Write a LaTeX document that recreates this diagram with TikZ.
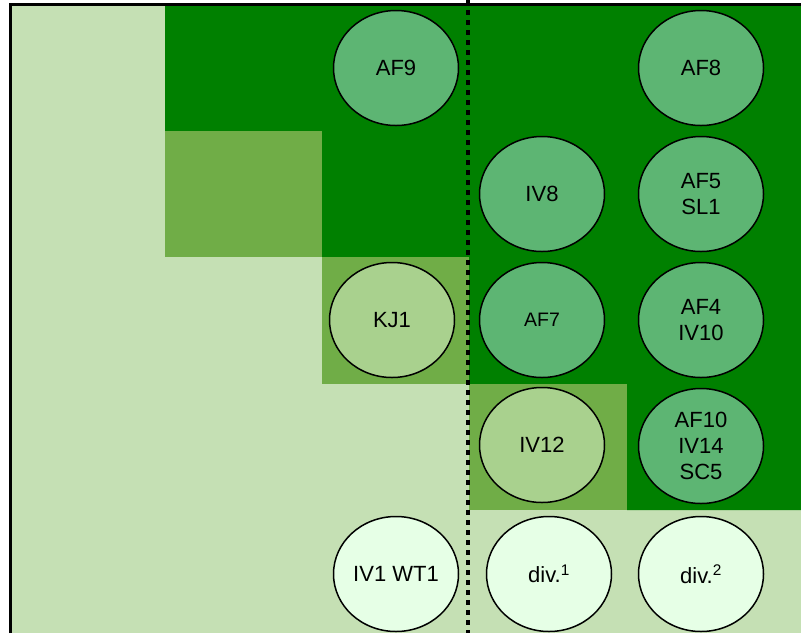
\documentclass[tikz,border=0pt]{standalone}
\usepackage{fontspec}
\setmainfont{Liberation Sans}
\usetikzlibrary{shapes.geometric}

\definecolor{dkgreen}{HTML}{008000}
\definecolor{mdgreen}{HTML}{70AD47}
\definecolor{ltgreen}{HTML}{C5E0B4}
\definecolor{dkoval}{HTML}{5DB573}
\definecolor{mdoval}{HTML}{A9D18E}
\definecolor{ltoval}{HTML}{E6FFE6}

\tikzset{
	oval/.style={ellipse, draw=black, line width=1.5pt, minimum width=125pt, minimum height=115pt,
		inner sep=0pt, align=center, font=\fontsize{22}{26}\selectfont},
	dkoval/.style={oval, fill=dkoval},
	mdoval/.style={oval, fill=mdoval},
	ltoval/.style={oval, fill=ltoval}
}

\begin{document}
\begin{tikzpicture}[x=1pt,y=-1pt]
		\useasboundingbox (0,0) rectangle (801,633);
		\fill[ltgreen] (12,6) rectangle (801,633);									% Fundo claro
		\fill[dkgreen] (165,6) -- (801,6) -- (801,510) -- (627,510) -- (627,384)
			-- (469,384) -- (469,257) -- (322,257) -- (322,131) -- (165,131) -- cycle;	% Escada escura
		\fill[mdgreen] (165,131) rectangle (322,257);								% Degrau 1
		\fill[mdgreen] (322,257) rectangle (469,384);								% Degrau 2
		\fill[mdgreen] (469,384) rectangle (627,510);								% Degrau 3
		\draw[line width=3pt] (10.5,633) -- (10.5,4.5) -- (801,4.5);				% Moldura
		\draw[line width=4pt, dash pattern=on 4.5pt off 5.5pt] (468,0) -- (468,633);	% Divisória
		
		% Linha 1
		\node[dkoval] (af9) at (396,68) {AF9};
		\node[dkoval] (af8) at (701,68) {AF8};
		% Linha 2
		\node[dkoval] (iv8) at (542,194) {IV8};
		\node[dkoval] (af5) at (701,194) {AF5\\SL1};
		% Linha 3
		\node[mdoval] (kj1) at (392,320) {KJ1};
		\node[dkoval, font=\fontsize{19.5}{24}\selectfont] (af7) at (542,320) {AF7};
		\node[dkoval] (af4) at (701,320) {AF4\\IV10};
		% Linha 4
		\node[mdoval] (iv12) at (542,445) {IV12};
		\node[dkoval] (af10) at (701,446) {AF10\\IV14\\SC5};
		% Linha 5
		\node[ltoval] (iv1) at (396,574) {IV1 WT1};
		\node[ltoval] (div1) at (549,574) {div.\textsuperscript{1}};
		\node[ltoval] (div2) at (701,574) {div.\textsuperscript{2}};
	\end{tikzpicture}
\end{document}
